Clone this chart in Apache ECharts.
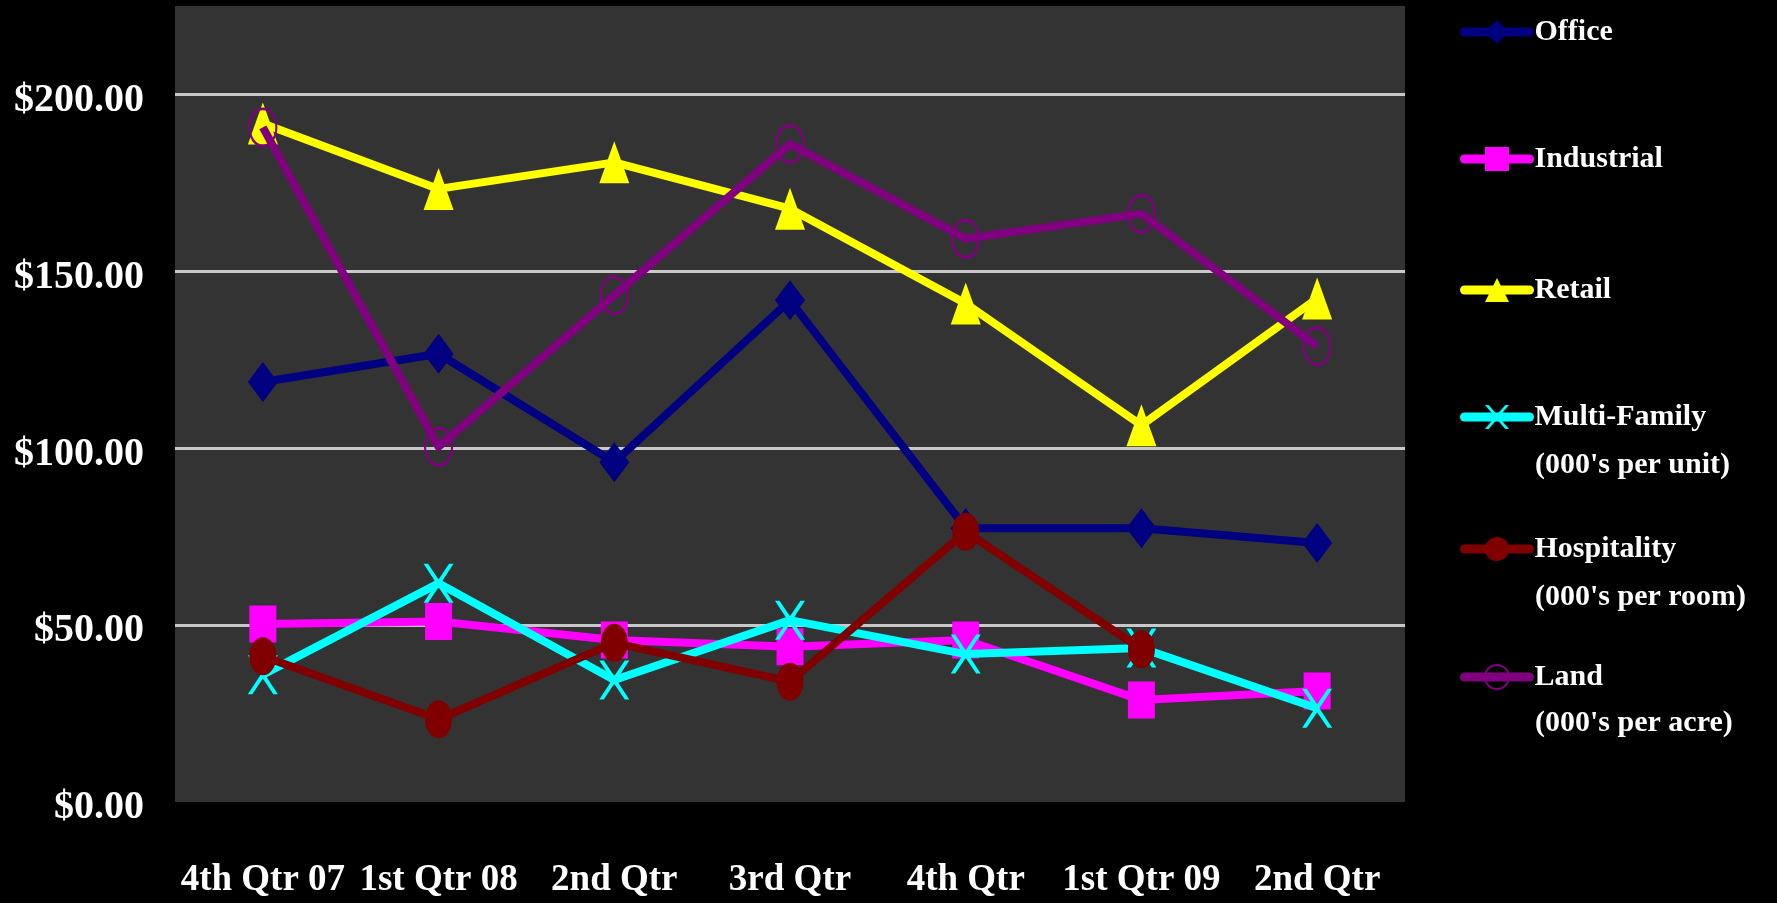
<!DOCTYPE html>
<html>
<head>
<meta charset="utf-8">
<script src="https://cdn.jsdelivr.net/npm/echarts@6/dist/echarts.min.js"></script>
<style>
html,body{margin:0;padding:0;background:#000;}
#chart{width:1777px;height:903px;}
</style>
</head>
<body>
<div id="chart"></div>
<script>
var categories = ['4th Qtr 07', '1st Qtr 08', '2nd Qtr', '3rd Qtr', '4th Qtr', '1st Qtr 09', '2nd Qtr'];
var office = [118.7, 126.7, 96.0, 141.8, 77.4, 77.4, 73.2];
var industrial = [50.3, 51.0, 45.8, 43.9, 45.8, 28.8, 31.4];
var retail = [191.8, 173.3, 180.8, 167.7, 140.9, 106.5, 142.3];
var multiFamily = [36.0, 61.8, 34.5, 51.4, 41.8, 43.5, 26.5];
var hospitality = [41.2, 23.4, 45.0, 34.0, 76.4, 43.2, null];
var land = [190.7, 100.4, 143.2, 186.0, 159.2, 166.3, 128.8];
var seriesNames = ['Office', 'Industrial', 'Retail', 'Multi-Family', 'Hospitality', 'Land'];
var seriesSubNames = ['', '', '', "(000's per unit)", "(000's per room)", "(000's per acre)"];
var yTicks = [0, 50, 100, 150, 200];

var font = 'Liberation Serif';
var xPath = 'path://M0,0 L3,0 L10,8 L17,0 L20,0 L11.5,10 L20,20 L17,20 L10,12 L3,20 L0,20 L8.5,10 Z';

var defs = [
  {data: office, color: '#000080', symbol: 'diamond', size: [30, 40]},
  {data: industrial, color: '#FF00FF', symbol: 'rect', size: [27, 37]},
  {data: retail, color: '#FFFF00', symbol: 'triangle', size: [30, 42]},
  {data: multiFamily, color: '#00FFFF', symbol: xPath, size: [30, 39]},
  {data: hospitality, color: '#800000', symbol: 'circle', size: [27, 38]},
  {data: land, color: '#800080', symbol: 'circle', size: [27, 37], hollow: true}
];

var series = defs.map(function (d, i) {
  return {
    type: 'line',
    name: seriesNames[i],
    data: d.data,
    symbol: d.symbol,
    symbolSize: d.size,
    showAllSymbol: true,
    connectNulls: false,
    lineStyle: {color: d.color, width: 8, join: 'round'},
    itemStyle: d.hollow ? {color: 'rgba(0,0,0,0)', borderColor: d.color, borderWidth: 2.5} : {color: d.color},
    emphasis: {disabled: true},
    z: 2 + i
  };
});

var legendCenters = [32, 159, 290, 417, 549, 677];
var legends = seriesNames.map(function (n, i) {
  return {
    data: [n],
    orient: 'vertical',
    left: 1460,
    top: legendCenters[i] - 15,
    padding: 0,
    itemWidth: 65,
    itemHeight: 30,
    selectedMode: false,
    lineStyle: {width: 9, cap: 'round'},
    textStyle: {color: '#fff', fontFamily: font, fontWeight: 'bold', fontSize: 30, lineHeight: 30}
  };
});

var subCenters = [0, 0, 0, 467, 599, 725];
var graphics = [];
seriesSubNames.forEach(function (s, i) {
  if (!s) return;
  graphics.push({
    type: 'text',
    left: 1535,
    top: subCenters[i] - 17,
    style: {text: s, fill: '#fff', font: 'bold 30px "' + font + '"'}
  });
});

var chart = echarts.init(document.getElementById('chart'));
chart.setOption({
  animation: false,
  backgroundColor: '#000',
  grid: {left: 175, right: 372, top: 6, bottom: 101, show: true, backgroundColor: '#333333', borderWidth: 0, containLabel: false},
  xAxis: {
    type: 'category',
    data: categories,
    boundaryGap: true,
    axisLine: {show: false},
    axisTick: {show: false},
    axisLabel: {color: '#fff', fontFamily: font, fontWeight: 'bold', fontSize: 37, margin: 60, interval: 0}
  },
  yAxis: {
    type: 'value',
    min: 0,
    max: 225,
    interval: 50,
    axisLine: {show: false},
    axisTick: {show: false},
    splitLine: {show: true, showMaxLine: false, showMinLine: false, lineStyle: {color: '#c8c8c8', width: 3}},
    axisLabel: {
      color: '#fff', fontFamily: font, fontWeight: 'bold', fontSize: 40, margin: 31,
      showMaxLabel: false,
      formatter: function (v) { return yTicks.indexOf(v) >= 0 ? '{v|$' + v.toFixed(2) + '}' : ''; },
      rich: {
        v: {color: '#fff', fontFamily: font, fontWeight: 'bold', fontSize: 40, padding: [12, 0, 0, 0]}
      }
    }
  },
  legend: legends,
  graphic: graphics,
  series: series
});
</script>
</body>
</html>
